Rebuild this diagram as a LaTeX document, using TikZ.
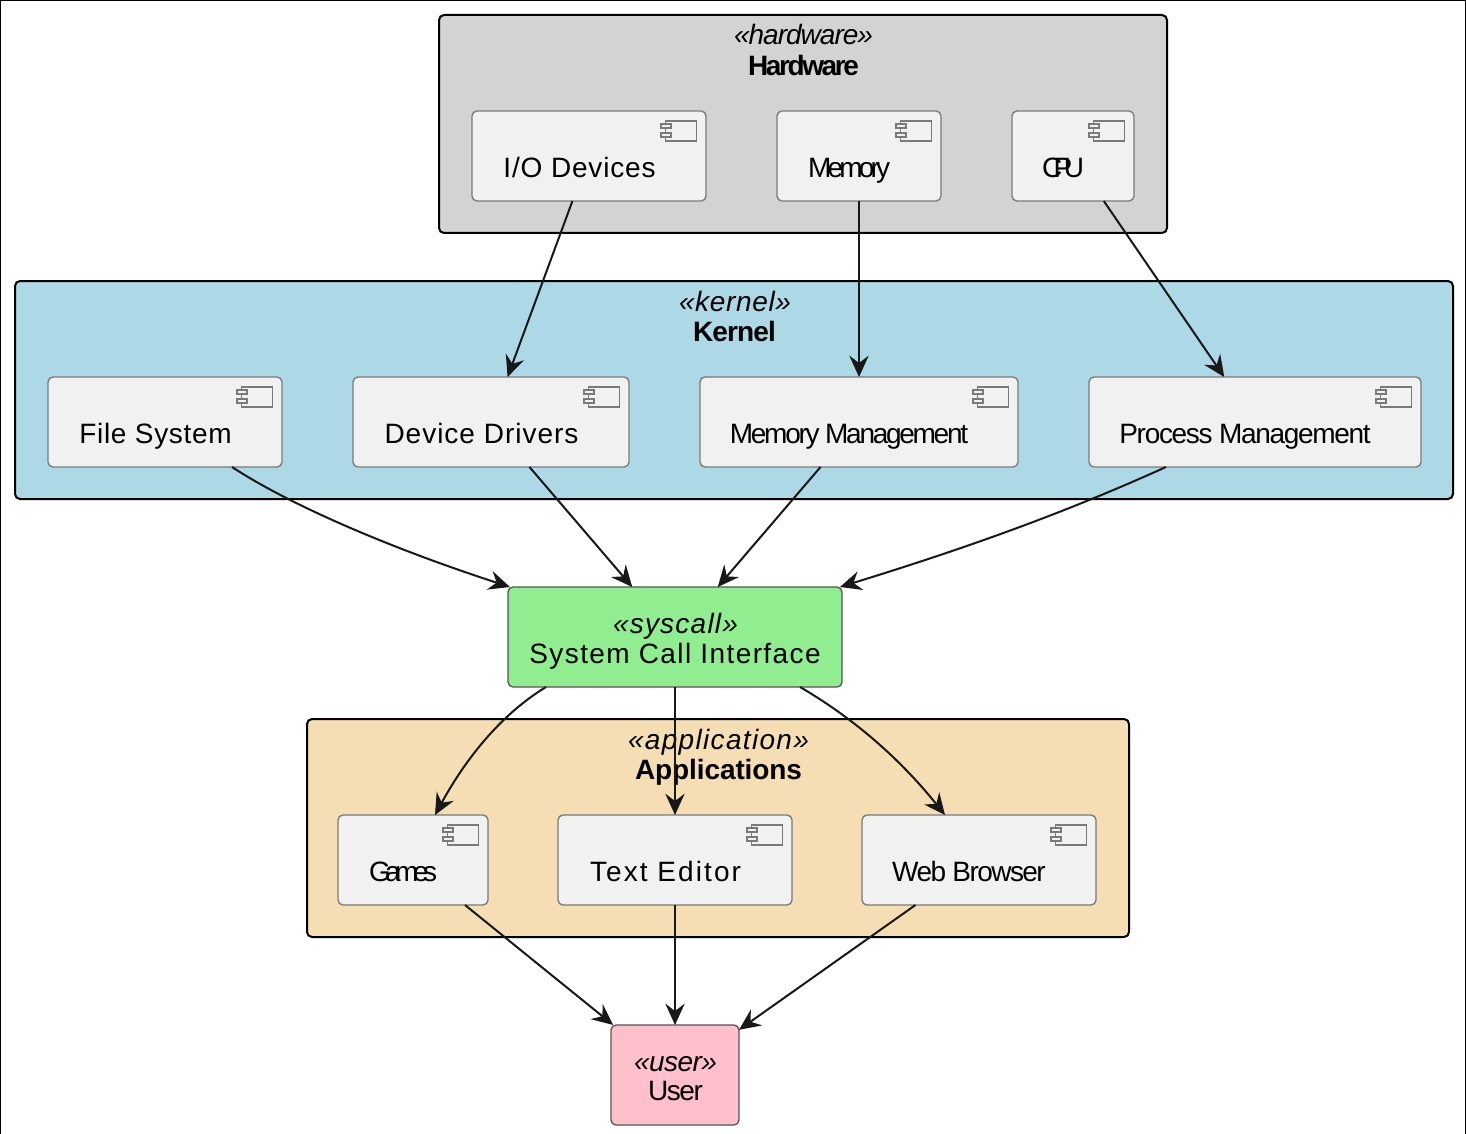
\documentclass[tikz,border=0pt]{standalone}
\usepackage{fontspec}
\setmainfont{Liberation Sans}
\usetikzlibrary{arrows.meta}
\definecolor{edgecol}{HTML}{181818}
\definecolor{compfill}{HTML}{F1F1F1}
\definecolor{compline}{HTML}{7A7A7A}
\definecolor{hwfill}{HTML}{D3D3D3}
\definecolor{kernfill}{HTML}{ADD8E6}
\definecolor{appfill}{HTML}{F5DEB3}
\definecolor{sysfill}{HTML}{90EE90}
\definecolor{userfill}{HTML}{FFC0CB}
% text set to a target width in px: width, number of letters, text
\newcommand\fitw[3]{\setbox0=\hbox{#3}\pgfmathsetmacro\lsv{100*(#1*0.75-\the\wd0)/(#2-1)/21}\edef\lsx{\lsv}\expandafter\addfontfeature\expandafter{\expanded{LetterSpace=\lsx}}#3}
% style, name, x1, y1, x2, y2 in px
\newcommand\boxn[6]{\pgfmathsetmacro\bw{(#5-#3)*0.75}\pgfmathsetmacro\bh{(#6-#4)*0.75}\pgfmathsetmacro\bx{(#3+#5)/2}\pgfmathsetmacro\by{(#4+#6)/2}\node[#1,minimum width=\bw pt,minimum height=\bh pt] (#2) at (\bx,\by) {};}
% component icon at the top right of a node
\newcommand\iconat[1]{\begin{scope}[shift={(#1.north east)}]
\draw[iconline] (-40.5,10) rectangle (-9.5,30);
\draw[iconline] (-45,13) rectangle (-35,17);
\draw[iconline] (-45,22) rectangle (-35,26);
\end{scope}}
\tikzset{
 x=0.75pt,y=-0.75pt,
 basebox/.style={rectangle,rounded corners=3.75pt,inner sep=0pt,outer sep=0pt},
 group/.style={basebox,draw=black,line width=1.5pt},
 comp/.style={basebox,draw=compline,line width=1pt,fill=compfill},
 leaf/.style={basebox,draw=compline!70!black,line width=1pt},
 iconline/.style={draw=compline,line width=1.1pt,fill=compfill},
 txt/.style={anchor=base,inner sep=0pt,outer sep=0pt,yshift=-0.75pt,font=\fontsize{21}{25}\selectfont,text=black},
 conn/.style={draw=edgecol,line width=1.5pt,-{Stealth[length=16pt,width=14.5pt,inset=5.5pt]}},
 frameb/.style={draw=black,line width=1pt}
}
\begin{document}
\begin{tikzpicture}
\useasboundingbox (0,0) rectangle (1466,1134);
\draw[frameb] (0.6,1134) -- (0.6,0.6) -- (1465.4,0.6) -- (1465.4,1134);
% groups
\boxn{group,fill=hwfill}{hw}{439}{15}{1167}{233}
\boxn{group,fill=kernfill}{kern}{15}{281}{1453}{499}
\boxn{group,fill=appfill}{app}{307}{719}{1129}{937}
\boxn{leaf,fill=sysfill}{sys}{508}{587}{842}{687}
\boxn{leaf,fill=userfill}{usr}{611}{1025}{739}{1125}
% components
\boxn{comp}{io}{472}{111}{706}{201}
\boxn{comp}{mem}{777}{111}{941}{201}
\boxn{comp}{cpu}{1012}{111}{1134}{201}
\boxn{comp}{fs}{48}{377}{282}{467}
\boxn{comp}{dd}{353}{377}{629}{467}
\boxn{comp}{mm}{700}{377}{1018}{467}
\boxn{comp}{pm}{1089}{377}{1421}{467}
\boxn{comp}{games}{338}{815}{488}{905}
\boxn{comp}{te}{558}{815}{792}{905}
\boxn{comp}{wb}{862}{815}{1096}{905}
\iconat{io}\iconat{mem}\iconat{cpu}\iconat{fs}\iconat{dd}\iconat{mm}\iconat{pm}\iconat{games}\iconat{te}\iconat{wb}
% labels
\node[txt] (t1) at (803.5,44) {\itshape\fitw{139}{10}{«hardware»}};
\node[txt] (t2) at (803.5,75) {\bfseries\fitw{111}{8}{Hardware}};
\node[txt] (t3) at (735,310) {\itshape\fitw{112}{8}{«kernel»}};
\node[txt] (t4) at (734.5,340) {\bfseries\fitw{83}{6}{Kernel}};
\node[txt] (t5) at (675.5,632) {\itshape\fitw{125}{9}{«syscall»}};
\node[txt] (t6) at (675,662) {\fitw{294}{21}{System Call Interface}};
\node[txt] (t7) at (718.5,748) {\itshape\fitw{181}{13}{«application»}};
\node[txt] (t8) at (718.5,778) {\bfseries\fitw{167}{12}{Applications}};
\node[txt] (t9) at (675.5,1070) {\itshape\fitw{83}{6}{«user»}};
\node[txt] (t10) at (675.5,1099) {\fitw{55}{4}{User}};
\node[txt] (c1) at (579.5,176.5) {\fitw{153}{11}{I/O Devices}};
\node[txt] (c2) at (849,176.5) {\fitw{82}{6}{Memory}};
\node[txt] (c3) at (1063,176.5) {\fitw{42}{3}{CPU}};
\node[txt] (c4) at (155.5,442) {\fitw{153}{11}{File System}};
\node[txt] (c5) at (481.5,442) {\fitw{195}{14}{Device Drivers}};
\node[txt] (c6) at (849,442) {\fitw{236}{17}{Memory Management}};
\node[txt] (c7) at (1245,442) {\fitw{250}{18}{Process Management}};
\node[txt] (c8) at (403,880) {\fitw{68}{5}{Games}};
\node[txt] (c9) at (665.5,880) {\fitw{153}{11}{Text Editor}};
\node[txt] (c10) at (969,880) {\fitw{152}{11}{Web Browser}};
% connectors
\draw[conn] (io) -- (dd);
\draw[conn] (mem) -- (mm);
\draw[conn] (cpu) -- (pm);
\draw[conn] (dd) -- (sys);
\draw[conn] (mm) -- (sys);
\draw[conn] ([xshift=50.25pt]fs.south) .. controls (290,505) and (390,548) .. ([xshift=1.5pt]sys.north west);
\draw[conn] ([xshift=-66.75pt]pm.south) .. controls (1060,515) and (960,550) .. ([xshift=-1.5pt]sys.north east);
\draw[conn] ([xshift=-96.75pt]sys.south) .. controls (500,715) and (465,760) .. ([xshift=16.5pt]games.north);
\draw[conn] (sys) -- (te);
\draw[conn] ([xshift=93.75pt]sys.south) .. controls (860,722) and (905,765) .. ([xshift=-25.5pt]wb.north);
\draw[conn] ([xshift=39pt]games.south) -- (usr);
\draw[conn] (te) -- (usr);
\draw[conn] (wb) -- (usr);
\end{tikzpicture}
\end{document}
